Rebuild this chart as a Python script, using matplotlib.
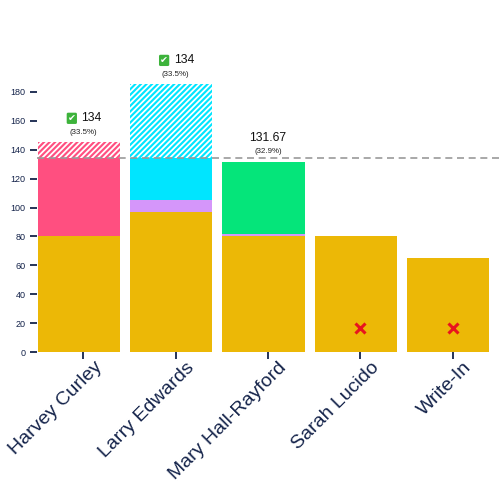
import matplotlib
matplotlib.use("Agg")
import matplotlib.pyplot as plt
import numpy as np

plt.rcParams['font.family'] = ['Liberation Sans', 'DejaVu Sans']
plt.rcParams['hatch.linewidth'] = 1.3
plt.rcParams['hatch.color'] = 'white'

candidates = ["Harvey Curley", "Larry Edwards", "Mary Hall-Rayford", "Sarah Lucido", "Write-In"]
first_choice = [80, 97, 80, 80, 65]
from_write_in = [65, 0, 0, 0, 0]
from_harvey_surplus = [0, 8, 1.67, 0, 0]
from_sarah = [0, 80, 0, 0, 0]
from_larry_surplus = [0, 0, 50, 0, 0]
threshold = 134
winners = [True, True, False, False, False]
eliminated = [False, False, False, True, True]
label_values = ["134", "134", "131.67", None, None]
label_pcts = ["(33.5%)", "(33.5%)", "(32.9%)", None, None]
yticks = [0, 20, 40, 60, 80, 100, 120, 140, 160, 180]

segments = [first_choice, from_write_in, from_harvey_surplus, from_sarah, from_larry_surplus]
colors = ["#ECB806", "#FF4F80", "#D596FA", "#00E5FF", "#05E57A"]
navy = "#14234A"

fig = plt.figure(figsize=(5, 5), dpi=100)
ax = fig.add_axes([37.2/500, (500-352.3)/500, (498.7-37.2)/500, 200*1.448/500])
ax.set_xlim(-0.5, 4.5)
ax.set_ylim(0, 200)
for s in ax.spines.values():
    s.set_visible(False)

n = len(candidates)
x = np.arange(n)
left = x - 0.495
width = 0.892
bottom = np.zeros(n)
for seg, col in zip(segments, colors):
    seg = np.array(seg, dtype=float)
    top = bottom + seg
    for i in range(n):
        if seg[i] <= 0:
            continue
        b, t = bottom[i], top[i]
        if winners[i] and t > threshold:
            if b < threshold:
                ax.bar(left[i], threshold - b, width, bottom=b, align='edge', color=col, linewidth=0)
            hb = max(b, threshold)
            ax.bar(left[i], t - hb, width, bottom=hb, align='edge', facecolor=col,
                   edgecolor='white', hatch='//////', linewidth=0)
        else:
            ax.bar(left[i], t - b, width, bottom=b, align='edge', color=col, linewidth=0)
    bottom = top

totals = bottom
ax.axhline(threshold, color='#999999', linestyle=(0, (4.2, 2.8)), linewidth=1.2, zorder=5)

for i in range(n):
    if label_values[i] is None:
        continue
    top = totals[i]
    ax.annotate(label_pcts[i], xy=(x[i], top), xytext=(0, 7.2), textcoords='offset points',
                ha='center', va='center', fontsize=5.7, color='#222222', annotation_clip=False)
    if winners[i]:
        ax.annotate(label_values[i], xy=(x[i], top), xytext=(6, 17.3), textcoords='offset points',
                    ha='center', va='center', fontsize=8.7, color='#111111', annotation_clip=False)
        ax.annotate('\u2714', xy=(x[i], top), xytext=(-8.3, 17.3), textcoords='offset points',
                    ha='center', va='center', fontsize=6.8, color='white', fontweight='bold',
                    family='DejaVu Sans', annotation_clip=False,
                    bbox=dict(boxstyle='round,pad=0.12,rounding_size=0.15', fc='#3DB33B', ec='none'))
    else:
        ax.annotate(label_values[i], xy=(x[i], top), xytext=(0, 17.3), textcoords='offset points',
                    ha='center', va='center', fontsize=8.7, color='#111111', annotation_clip=False)

for i in range(n):
    if eliminated[i]:
        ax.plot(x[i], 17, marker='x', color='#E8141E', markersize=6.5, markeredgewidth=2.2, zorder=6)

ax.set_yticks(yticks)
ax.set_yticklabels([str(v) for v in yticks])
ax.tick_params(axis='y', length=5, width=1.3, color=navy, pad=3.5, labelsize=6.5, labelcolor=navy)
ax.set_xticks(x)
ax.set_xticklabels([])
ax.tick_params(axis='x', length=5, width=1.3, color=navy)
for i, name in enumerate(candidates):
    ax.annotate(name, xy=(x[i], 0), xytext=(11.5, -9), textcoords='offset points',
                ha='right', va='center', rotation=45, rotation_mode='anchor',
                fontsize=14, color=navy, annotation_clip=False)

fig.savefig("out.png", dpi=100)
